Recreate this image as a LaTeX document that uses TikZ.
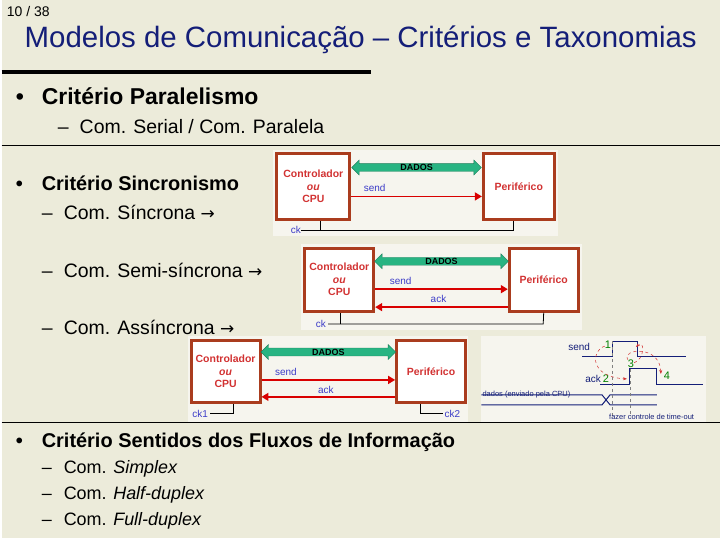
\documentclass[tikz,border=0pt]{standalone}
\usepackage{fontspec}
\setmainfont{Liberation Sans}
\newfontfamily\djv{DejaVu Sans}
\usetikzlibrary{arrows.meta,shapes.arrows}
\definecolor{bg}{RGB}{236,235,218}
\definecolor{panel}{RGB}{246,245,238}
\definecolor{brick}{RGB}{170,60,30}
\definecolor{tblue}{RGB}{20,30,120}
\definecolor{dgreen}{RGB}{40,180,130}
\definecolor{lblue}{RGB}{60,60,200}
\definecolor{cred}{RGB}{210,50,50}
\tikzset{
 box/.style={draw=brick,line width=3pt,fill=white,align=center,font=\fontsize{10.5}{12.5}\selectfont\bfseries,text=cred,inner sep=1pt},
 lab/.style={font=\fontsize{10}{11}\selectfont,text=lblue,inner sep=0pt},
 sig/.style={red!85!black,line width=1.5pt,-{Triangle[length=7pt,width=8pt]}},
 dados/.style={draw=dgreen!70!black,fill=dgreen,double arrow,double arrow head extend=3pt,minimum height=130pt,minimum width=15pt,inner sep=0pt,font=\fontsize{9}{9}\selectfont\bfseries},
 txt/.style={anchor=west,inner sep=0pt},
 wave/.style={draw=tblue,line width=1pt},
 tiny/.style={font=\fontsize{7.5}{8}\selectfont,inner sep=0pt,text=tblue},
 num/.style={font=\fontsize{11}{12}\selectfont,inner sep=0pt,text=green!50!black},
}
\newcommand{\bul}{\makebox[26pt][l]{•}}
\newcommand{\dsh}{\makebox[22pt][l]{–}}
\newcommand{\arr}{{\djv\fontsize{17}{20}\selectfont →}}
\begin{document}
\begin{tikzpicture}[x=1pt,y=-1pt]
\fill[bg] (0,0) rectangle (720,540);
\node[txt,font=\fontsize{14}{16}\selectfont] (pg) at (5,12) {10 / 38};
\node[font=\fontsize{29.5}{32}\selectfont,text=tblue] (title) at (360,40) {Modelos de Comunicação – Critérios e Taxonomias};
\draw[line width=3.5pt] (0,72) -- (370,72);
\node[txt,font=\fontsize{23}{26}\selectfont\bfseries] (b1) at (14,96) {\bul Critério Paralelismo};
\node[txt,font=\fontsize{19.5}{22}\selectfont] (s1) at (56,127) {\dsh Com. Serial / Com. Paralela};
\draw[line width=0.6pt] (0,146) -- (720,146);
\node[txt,font=\fontsize{20}{23}\selectfont\bfseries] (b2) at (14,184) {\bul Critério Sincronismo};
\node[txt,font=\fontsize{19.5}{22}\selectfont] (s2) at (40,213) {\dsh Com. Síncrona \arr};
\node[txt,font=\fontsize{19.5}{22}\selectfont] (s3) at (40,271) {\dsh Com. Semi-síncrona \arr};
\node[txt,font=\fontsize{19.5}{22}\selectfont] (s4) at (40,328) {\dsh Com. Assíncrona \arr};
\draw[line width=0.6pt] (0,423) -- (720,423);
\node[txt,font=\fontsize{20}{23}\selectfont\bfseries] (b3) at (14,444) {\bul Critério Sentidos dos Fluxos de Informação};
\node[txt,font=\fontsize{18}{21}\selectfont] (f1) at (40,470) {\dsh Com. \textit{Simplex}};
\node[txt,font=\fontsize{18}{21}\selectfont] (f2) at (40,496) {\dsh Com. \textit{Half-duplex}};
\node[txt,font=\fontsize{18}{21}\selectfont] (f3) at (40,522) {\dsh Com. \textit{Full-duplex}};
% diagram 1
\fill[panel] (272,150) rectangle (558,237);
\node[box,minimum width=73pt,minimum height=66pt] (c1) at (312.5,187) {Controlador\\\textit{ou}\\CPU};
\node[box,minimum width=71pt,minimum height=66pt] (p1) at (518.5,187) {Periférico};
\node[dados] (d1) at (416,168) {DADOS};
\draw[sig] (c1.east |- 0,197) -- (p1.west |- 0,197);
\node[lab] (sd1) at (374,188) {send};
\node[lab] (ck) at (295,231) {ck};
\draw[line width=0.8pt] (ck.east) -- ++(3,0) coordinate (k1) -| (c1.south -| 320,0); \draw[line width=0.8pt] (k1) -- (513,231) -- (p1.south -| 513,0);
% diagram 2
\fill[panel] (300,245) rectangle (582,331);
\node[box,minimum width=69pt,minimum height=63pt] (c2) at (338.5,280.5) {Controlador\\\textit{ou}\\CPU};
\node[box,minimum width=69pt,minimum height=63pt] (p2) at (543.5,280.5) {Periférico};
\node[dados,minimum height=134pt] (d2) at (441,262) {DADOS};
\draw[sig] (c2.east |- 0,290) -- (p2.west |- 0,290);
\draw[sig] (p2.west |- 0,308) -- (c2.east |- 0,308);
\node[lab] (sd2) at (400,282) {send};
\node[lab] (ak2) at (438,300) {ack};
\node[lab] (ck2l) at (320,325) {ck};
\draw[line width=0.8pt] (ck2l.east) ++(2,0) -- (543,325) -- (p2.south);
\draw[line width=0.8pt] (340,325) -- (c2.south -| 340,0);
% diagram 3
\fill[panel] (187,337) rectangle (468,423);
\node[box,minimum width=69pt,minimum height=63pt] (c3) at (224.5,372.5) {Controlador\\\textit{ou}\\CPU};
\node[box,minimum width=69pt,minimum height=63pt] (p3) at (430.5,372.5) {Periférico};
\node[dados,minimum height=135pt] (d3) at (327.5,353) {DADOS};
\draw[sig] (c3.east |- 0,381) -- (p3.west |- 0,381);
\draw[sig] (p3.west |- 0,398) -- (c3.east |- 0,398);
\node[lab] (sd3) at (285,373) {send};
\node[lab] (ak3) at (325,391) {ack};
\node[lab] (ck1) at (199,415) {ck1};
\node[lab] (ck2) at (452,415) {ck2};
\draw[line width=0.8pt] (ck1.east) ++(2,0) -- (232,415) -- (c3.south -| 232,0);
\draw[line width=0.8pt] (ck2.west) ++(-2,0) -- (420,415) -- (p3.south -| 420,0);
% timing
\fill[panel] (481,337) rectangle (706,423);
\draw[wave] (582,358) -- (612,358) -- (612,342) -- (638,342) -- (638,358) -- (686,358);
\draw[wave] (600,386) -- (630,386) -- (630,370) -- (657,370) -- (657,386) -- (703,386);
\draw[wave] (481,396) -- (602,396) -- (610,406) -- (657,406);
\draw[wave] (481,406) -- (602,406) -- (610,396) -- (657,396);
\draw[gray,dashed,line width=0.4pt] (612,342) -- (612,418);
\draw[gray,dashed,line width=0.4pt] (630,370) -- (630,418);
\node[tiny,font=\fontsize{10}{11}\selectfont] (ts) at (579,348) {send};
\node[tiny,font=\fontsize{10}{11}\selectfont] (ta) at (593,380) {ack};
\node[num] (n1) at (608,346) {1};
\node[num] (n2) at (606,380) {2};
\node[num] (n3) at (631,365) {3};
\node[num] (n4) at (667,377) {4};
\node[tiny,anchor=west] (dd) at (482,396) {dados (enviado pela CPU)};
\node[tiny,anchor=west] (fz) at (609,418) {fazer controle de time-out};
\tikzset{loop/.style={cred,dashed,line width=0.5pt,-{Stealth[length=4pt]}}}
\draw[loop] (n1) .. controls (590,352) and (590,378) .. (627,380);
\draw[loop] (n3) .. controls (645,360) and (645,340) .. (636,348);
\draw[loop] (n3) .. controls (620,350) and (660,345) .. (661,375);
\end{tikzpicture}
\end{document}
